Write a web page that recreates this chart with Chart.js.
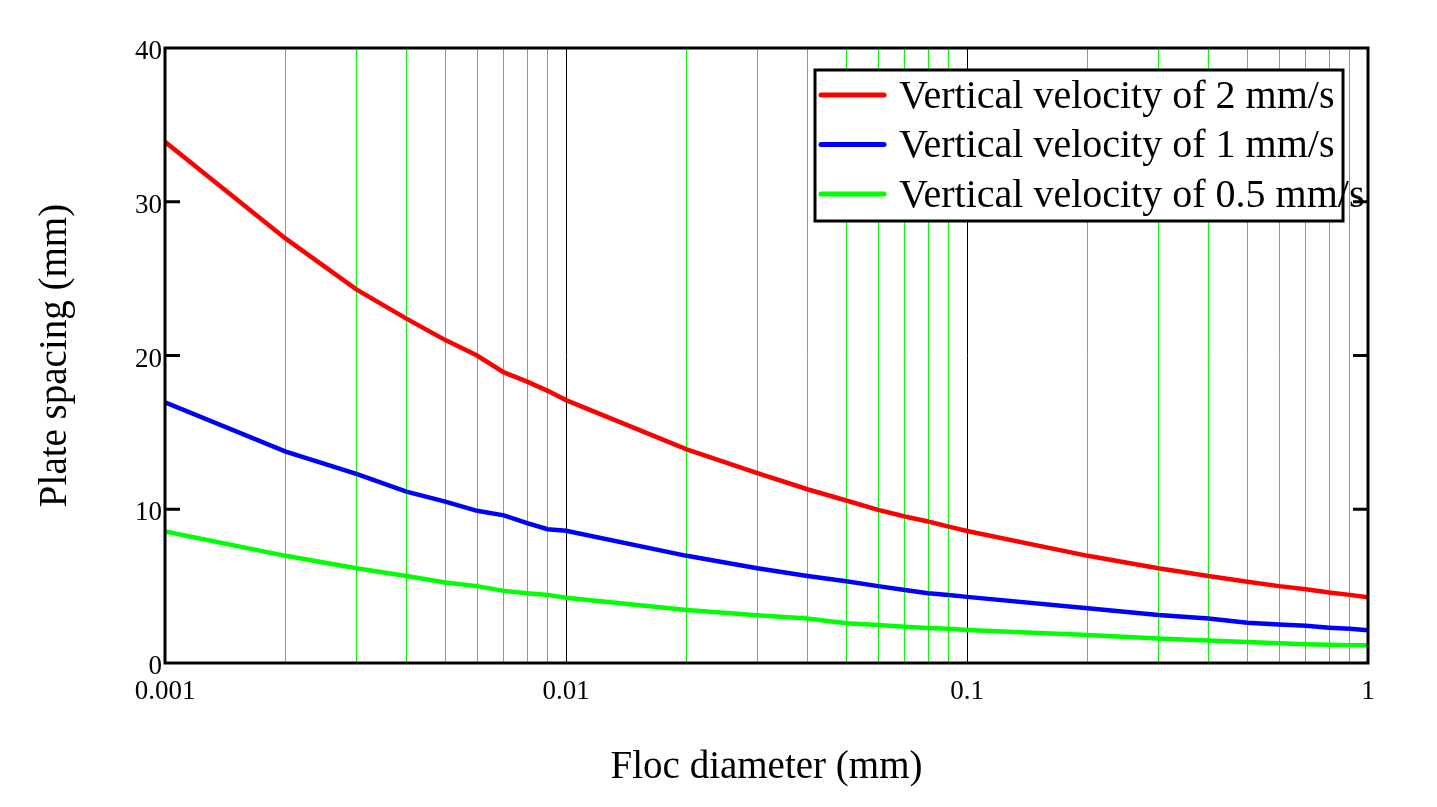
<!DOCTYPE html>
<html>
<head>
<meta charset="utf-8">
<script src="https://cdn.jsdelivr.net/npm/chart.js@4.4.0/dist/chart.umd.min.js"></script>
<style>
  html, body { margin: 0; padding: 0; background: #fff; }
  #wrap { width: 1437px; height: 807px; }
</style>
</head>
<body>
<div id="wrap"><canvas id="plateChart"></canvas></div>
<script>
// floc diameter (mm), read at the log grid lines
var diameters = [0.001, 0.002, 0.003, 0.004, 0.005, 0.006, 0.007, 0.008, 0.009,
                 0.01, 0.02, 0.03, 0.04, 0.05, 0.06, 0.07, 0.08, 0.09,
                 0.1, 0.2, 0.3, 0.4, 0.5, 0.6, 0.7, 0.8, 0.9, 1];

// plate spacing (mm) for each vertical velocity
var spacing2 = [33.9, 27.6, 24.3, 22.4, 21.0, 20.0, 18.9, 18.3, 17.7,
                17.1, 13.9, 12.35, 11.3, 10.57, 9.96, 9.53, 9.2, 8.87,
                8.59, 6.97, 6.16, 5.66, 5.29, 5.0, 4.8, 4.58, 4.43, 4.27];
var spacing1 = [16.95, 13.75, 12.3, 11.15, 10.5, 9.9, 9.6, 9.1, 8.7,
                8.6, 6.97, 6.16, 5.66, 5.32, 5.0, 4.75, 4.54, 4.43,
                4.3, 3.56, 3.12, 2.9, 2.62, 2.5, 2.42, 2.3, 2.22, 2.13];
var spacing05 = [8.55, 6.97, 6.16, 5.66, 5.23, 5.0, 4.69, 4.54, 4.43,
                 4.25, 3.45, 3.1, 2.9, 2.58, 2.47, 2.36, 2.28, 2.22,
                 2.15, 1.82, 1.6, 1.47, 1.36, 1.28, 1.22, 1.18, 1.15, 1.15];

var seriesLabels = ["Vertical velocity of 2 mm/s", "Vertical velocity of 1 mm/s", "Vertical velocity of 0.5 mm/s"];

// vertical grid lines and which of them get a label
var xGrid = diameters;
var xTickLabels = {0.001: "0.001", 0.01: "0.01", 0.1: "0.1", 1: "1"};
var yTicks = [0, 10, 20, 30, 40];

var serif = '"Liberation Serif", "Times New Roman", serif';

function toPoints(ys) {
  return diameters.map(function (d, i) { return {x: d, y: ys[i]}; });
}

function isDecade(v) {
  var l = Math.log10(v);
  return Math.abs(l - Math.round(l)) < 1e-9;
}

// frame, inward y ticks and the boxed legend
var framePlugin = {
  id: 'frame',
  afterDraw: function (chart) {
    var ctx = chart.ctx, a = chart.chartArea, y = chart.scales.y;
    ctx.save();
    ctx.strokeStyle = '#000';
    ctx.lineWidth = 3;
    ctx.strokeRect(a.left, a.top, a.right - a.left, a.bottom - a.top);
    yTicks.slice(1, -1).forEach(function (t) {
      var py = y.getPixelForValue(t);
      ctx.beginPath();
      ctx.moveTo(a.left, py); ctx.lineTo(a.left + 15, py);
      ctx.moveTo(a.right, py); ctx.lineTo(a.right - 15, py);
      ctx.stroke();
    });

    // legend
    var bx = 815, by = 70, bw = 528, bh = 151;
    ctx.fillStyle = '#fff';
    ctx.fillRect(bx, by, bw, bh);
    ctx.strokeRect(bx, by, bw, bh);
    ctx.font = '40px ' + serif;
    ctx.textBaseline = 'middle';
    ctx.textAlign = 'left';
    chart.data.datasets.forEach(function (ds, i) {
      var ry = 95 + i * 49.5;
      ctx.strokeStyle = ds.borderColor;
      ctx.lineWidth = 5;
      ctx.lineCap = 'round';
      ctx.beginPath();
      ctx.moveTo(821, ry); ctx.lineTo(884, ry);
      ctx.stroke();
      ctx.fillStyle = '#000';
      ctx.fillText(ds.label, 899, ry + 2);
    });
    ctx.restore();
  }
};

var ctx = document.getElementById('plateChart').getContext('2d');
var plateChart = new Chart(ctx, {
  type: 'line',
  data: {
    datasets: [
      { label: seriesLabels[0], data: toPoints(spacing2), borderColor: '#ff0000' },
      { label: seriesLabels[1], data: toPoints(spacing1), borderColor: '#0000ff' },
      { label: seriesLabels[2], data: toPoints(spacing05), borderColor: '#00ff00' }
    ]
  },
  options: {
    responsive: true,
    maintainAspectRatio: false,
    animation: false,
    layout: { padding: { left: 0, right: 69, top: 48, bottom: 0 } },
    elements: {
      line: { borderWidth: 4.5, tension: 0 },
      point: { radius: 0 }
    },
    plugins: {
      legend: { display: false },
      tooltip: { enabled: false }
    },
    scales: {
      x: {
        type: 'logarithmic',
        min: 0.001,
        max: 1,
        afterBuildTicks: function (scale) {
          scale.ticks = xGrid.map(function (v) { return {value: v}; });
        },
        afterFit: function (scale) { scale.height = 144; },
        border: { display: false },
        grid: {
          drawTicks: false,
          lineWidth: 1,
          color: function (c) {
            return isDecade(c.tick.value) ? '#000000' : '#00ff00';
          }
        },
        ticks: {
          autoSkip: false,
          maxRotation: 0,
          padding: 13,
          color: '#000',
          font: { family: serif, size: 27 },
          callback: function (v) { return xTickLabels[v] || ''; }
        },
        title: {
          display: true,
          text: 'Floc diameter (mm)',
          color: '#000',
          font: { family: serif, size: 39 },
          padding: { top: 0, bottom: 16 }
        }
      },
      y: {
        min: 0,
        max: 40,
        afterBuildTicks: function (scale) {
          scale.ticks = yTicks.map(function (v) { return {value: v}; });
        },
        afterFit: function (scale) { scale.width = 165; },
        border: { display: false },
        grid: { display: false, drawTicks: false },
        ticks: {
          padding: 3,
          labelOffset: 4,
          color: '#000',
          font: { family: serif, size: 27 }
        },
        title: {
          display: true,
          text: 'Plate spacing (mm)',
          color: '#000',
          font: { family: serif, size: 39 },
          padding: { top: 32, bottom: 0 }
        }
      }
    }
  },
  plugins: [framePlugin]
});
</script>
</body>
</html>
